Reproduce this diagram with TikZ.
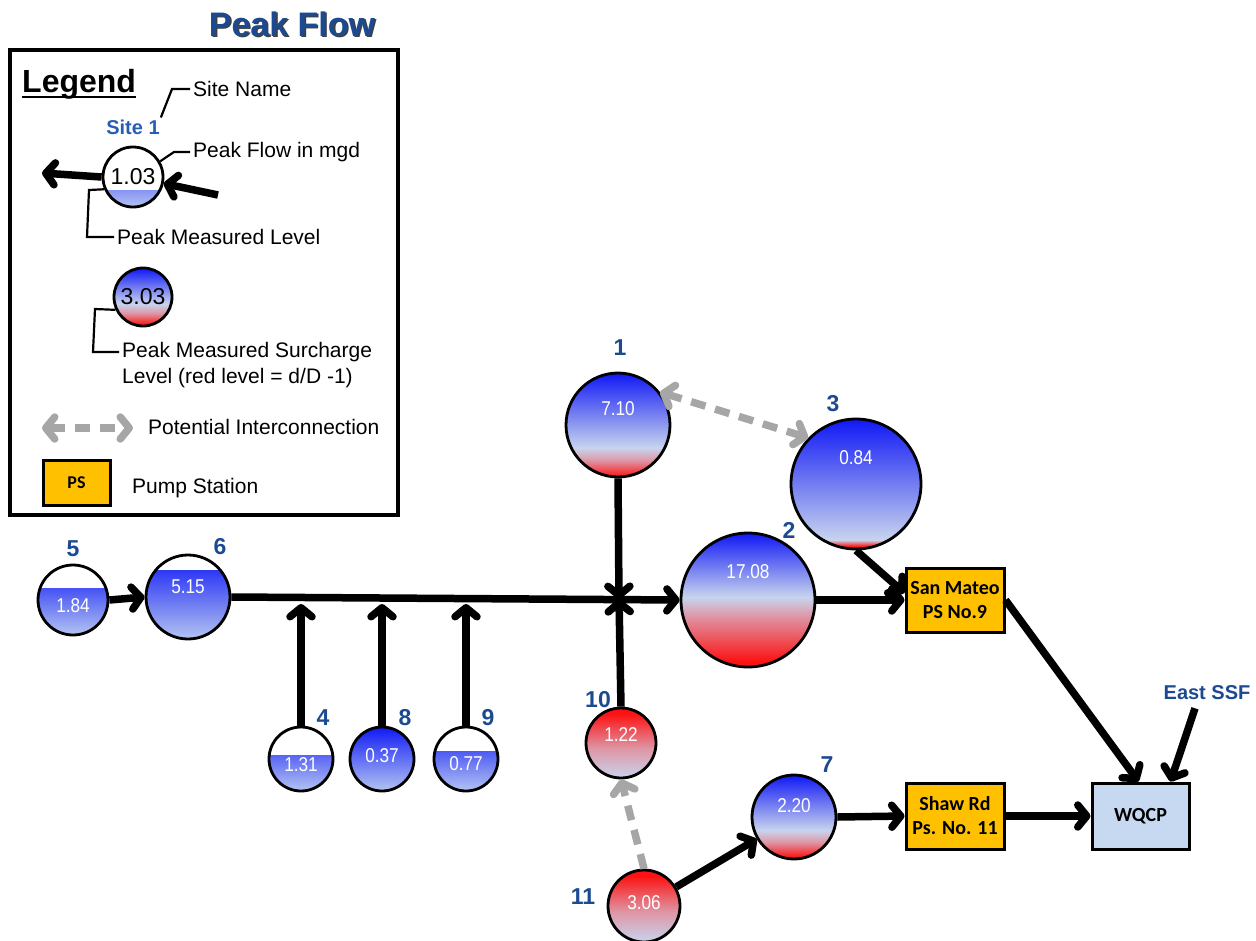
\documentclass[tikz,border=0pt]{standalone}
\usepackage{graphicx}
\usepackage{fontspec}
\setmainfont{Liberation Sans}
\newfontfamily\calfont{Carlito}
\usetikzlibrary{arrows.meta,calc}

\definecolor{cblue}{RGB}{16,24,245}
\definecolor{clight}{RGB}{200,212,238}
\definecolor{cpink}{RGB}{222,150,165}
\definecolor{cred}{RGB}{252,18,18}
\definecolor{lvtop}{RGB}{16,26,245}
\definecolor{lvbot}{RGB}{180,196,242}
\definecolor{lblue}{RGB}{28,74,145}
\definecolor{sblue}{RGB}{40,95,180}
\definecolor{psfill}{RGB}{255,192,0}
\definecolor{wqfill}{RGB}{198,217,241}
\definecolor{dgray}{RGB}{166,166,166}

% vertical shadings: 25bp = bottom of shape, 75bp = top of shape
\pgfdeclareverticalshading{shone}{100bp}{color(0bp)=(cred); color(25bp)=(cred); color(33bp)=(cpink); color(39bp)=(clight); color(75bp)=(cblue); color(100bp)=(cblue)}
\pgfdeclareverticalshading{shtwo}{100bp}{color(0bp)=(cred); color(27bp)=(cred); color(44bp)=(cpink); color(51bp)=(clight); color(75bp)=(cblue); color(100bp)=(cblue)}
\pgfdeclareverticalshading{shthree}{100bp}{color(0bp)=(cred); color(26bp)=(cred); color(28.5bp)=(clight); color(75bp)=(cblue); color(100bp)=(cblue)}
\pgfdeclareverticalshading{shseven}{100bp}{color(0bp)=(cred); color(26bp)=(cred); color(35bp)=(cpink); color(42bp)=(clight); color(75bp)=(cblue); color(100bp)=(cblue)}
\pgfdeclareverticalshading{shten}{100bp}{color(0bp)=(clight); color(25bp)=(clight); color(46bp)=(cpink); color(71bp)=(cred); color(100bp)=(cred)}
\pgfdeclareverticalshading{shleg}{100bp}{color(0bp)=(cred); color(26bp)=(cred); color(36bp)=(cpink); color(44bp)=(clight); color(75bp)=(cblue); color(100bp)=(cblue)}

\newcommand\nv[1]{\scalebox{0.86}[1]{#1}}

\tikzset{
  site/.style={circle, draw=black, line width=2.8pt, inner sep=0pt, minimum size=#1},
  lev/.style={fill=white, path picture={
      \shade[top color=lvtop, bottom color=lvbot]
        ($(path picture bounding box.north west)!#1!(path picture bounding box.south west)$)
        rectangle (path picture bounding box.south east);}},
  ntext/.style={text=white, inner sep=0pt, font=\fontsize{20}{20}\selectfont},
  lab/.style={text=lblue, inner sep=0pt, font=\bfseries\fontsize{23}{23}\selectfont},
  legtext/.style={anchor=west, inner sep=3pt, font=\fontsize{21}{25}\selectfont},
  lead/.style={line width=2.2pt, line join=miter},
  arr/.style={line width=7.5pt, -{Straight Barb[length=9pt,width=22pt,round]}},
  garone/.style={line width=7.5pt, draw=dgray, dash pattern=on 15pt off 10pt,
      -{Straight Barb[length=9pt,width=22pt,round]}},
  gartwo/.style={line width=7.5pt, draw=dgray, dash pattern=on 15pt off 10pt,
      {Straight Barb[length=9pt,width=22pt,round]}-{Straight Barb[length=9pt,width=22pt,round]}},
  psbox/.style={draw, line width=3pt, fill=psfill, minimum width=98pt, minimum height=64pt,
      inner sep=0pt, align=center, font=\calfont\bfseries\fontsize{20}{24}\selectfont},
}

\begin{document}
\begin{tikzpicture}[x=1pt,y=-1pt]
\useasboundingbox (0,0) rectangle (1256,940);

% ---------- title ----------
\node[inner sep=0pt, text=black!75, font=\bfseries\fontsize{34}{34}\selectfont] (titlesh) at (293.5,25.5) {Peak Flow};
\node[inner sep=0pt, text=lblue, font=\bfseries\fontsize{34}{34}\selectfont] (title) at (292,24) {Peak Flow};

% ---------- legend ----------
\node[draw, line width=3.2pt, minimum width=388pt, minimum height=465pt, inner sep=0pt] (legbox) at (204,282.5) {};
\node[anchor=base west, inner sep=0pt, font=\bfseries\fontsize{32}{32}\selectfont] (leg) at (22,92) {Legend};
\draw[line width=2.8pt] ([yshift=-5pt]leg.base west) -- ([yshift=-5pt]leg.base east);

\node[inner sep=0pt, text=sblue, font=\bfseries\fontsize{20}{20}\selectfont] (s1) at (133,127) {Site 1};
\node[legtext] (sname) at (190,89) {Site Name};
\draw[lead] ([xshift=1pt,yshift=2pt]s1.north east) -- (172,89) -- (sname.west);

\node[site=60pt, lev=0.72, font=\fontsize{23}{23}\selectfont] (lc) at (133,177) {1.03};
\node[legtext] (pfm) at (190,152) {Peak Flow in mgd};
\draw[lead] (lc.30) -- (174,152) -- (pfm.west);
\coordinate (la) at (42,173);
\coordinate (ra) at (218,195);
\draw[arr] (lc.west) -- (la);
\draw[arr] (ra) -- (lc);
\node[legtext] (pml) at (114,237) {Peak Measured Level};
\draw[lead] (lc.203) -- (89,190) -- (87,237) -- (pml.west);

\node[site=58pt, shade, shading=shleg, font=\fontsize{23}{23}\selectfont] (lc2) at (143,297) {3.03};
\node[legtext] (pms) at (119,352) {Peak Measured Surcharge};
\node[legtext] (pmsb) at (119,378) {Level (red level = d/D -1)};
\draw[lead] (lc2.205) -- (95,309) -- (93,352) -- (pms.west);

\coordinate (pa) at (42,428);
\coordinate (pb) at (133,428);
\draw[gartwo] (pa) -- (pb);
\node[legtext] (pic) at (145,427) {Potential Interconnection};

\node[psbox, minimum width=67pt, minimum height=45pt, font=\calfont\bfseries\fontsize{18}{18}\selectfont] (psl) at (76.5,482.5) {PS};
\node[legtext] (pst) at (129,488) {Pump Station};

% ---------- main diagram nodes ----------
\node[site=104pt, shade, shading=shone] (n1) at (618,425) {};
\node[ntext] (t1) at (618,409) {\nv{7.10}};
\node[lab] (l1) at (620,348) {1};

\node[site=130pt, shade, shading=shthree] (n3) at (856,484) {};
\node[ntext] (t3) at (856,458) {\nv{0.84}};
\node[lab] (l3) at (833,404) {3};

\node[site=134pt, shade, shading=shtwo] (n2) at (748,600) {};
\node[ntext] (t2) at (748,572) {\nv{17.08}};
\node[lab] (l2) at (789,530) {2};

\node[site=84pt, lev=0.19] (n6) at (188,597) {};
\node[ntext] (t6) at (188,587) {\nv{5.15}};
\node[lab] (l6) at (220,547) {6};

\node[site=70pt, lev=0.34] (n5) at (73,600) {};
\node[ntext] (t5) at (73,606) {\nv{1.84}};
\node[lab] (l5) at (73,549) {5};

\node[site=64pt, lev=0.44] (n4) at (301,759) {};
\node[ntext] (t4) at (301,765) {\nv{1.31}};
\node[lab] (l4) at (323,718) {4};

\node[site=64pt, lev=0] (n8) at (382,759) {};
\node[ntext] (t8) at (382,756) {\nv{0.37}};
\node[lab] (l8) at (405,718) {8};

\node[site=64pt, lev=0.39] (n9) at (466,759) {};
\node[ntext] (t9) at (466,764) {\nv{0.77}};
\node[lab] (l9) at (488,718) {9};

\node[site=70pt, shade, shading=shten] (n10) at (621,743) {};
\node[ntext] (t10) at (621,735) {\nv{1.22}};
\node[lab] (l10) at (598,700) {10};

\node[site=72pt, shade, shading=shten] (n11) at (644,906) {};
\node[ntext] (t11) at (644,903) {\nv{3.06}};
\node[lab] (l11) at (583,897) {11};

\node[site=84pt, shade, shading=shseven] (n7) at (794,817) {};
\node[ntext] (t7) at (794,806) {\nv{2.20}};
\node[lab] (l7) at (827,765) {7};

\node[psbox] (sm) at (955,600) {San Mateo\\PS No.9};
\node[psbox, minimum height=66pt] (sh) at (955,816) {Shaw Rd\\Ps. No. 11};
\node[psbox, fill=wqfill, minimum width=97pt, minimum height=66pt] (wq) at (1140.5,816) {WQCP};
\node[inner sep=0pt, text=lblue, font=\bfseries\fontsize{20}{20}\selectfont] (ssf) at (1207,693) {East SSF};

% ---------- connectors ----------
\coordinate (J) at (619,599);
\coordinate (c4) at (301,604);
\coordinate (c8) at (382,604);
\coordinate (c9) at (466,604);

\draw[arr] (n5.east) -- (n6.west);
\draw[arr] (n6.east) -- (n2.west);
\draw[arr] (n1.south) -- (J);
\draw[arr] (n10.north) -- (J);
\draw[arr] (n4.north) -- (c4);
\draw[arr] (n8.north) -- (c8);
\draw[arr] (n9.north) -- (c9);
\draw[arr] (n2.east) -- (sm.west);
\draw[arr] (n3.south) -- ([yshift=7pt]sm.west);
\draw[arr] (sm.east) -- ([xshift=-2pt]wq.north);
\draw[arr] (sh.east) -- (wq.west);
\draw[arr] (n7.east) -- (sh.west);
\draw[arr] (n11) -- (n7);
\draw[arr] ([xshift=-12pt,yshift=-8pt]ssf.south) -- ([xshift=30pt]wq.north);
\draw[garone] (n11.north) -- (n10.south);
\draw[gartwo] (n1.38) -- (n3.136);
\end{tikzpicture}
\end{document}
